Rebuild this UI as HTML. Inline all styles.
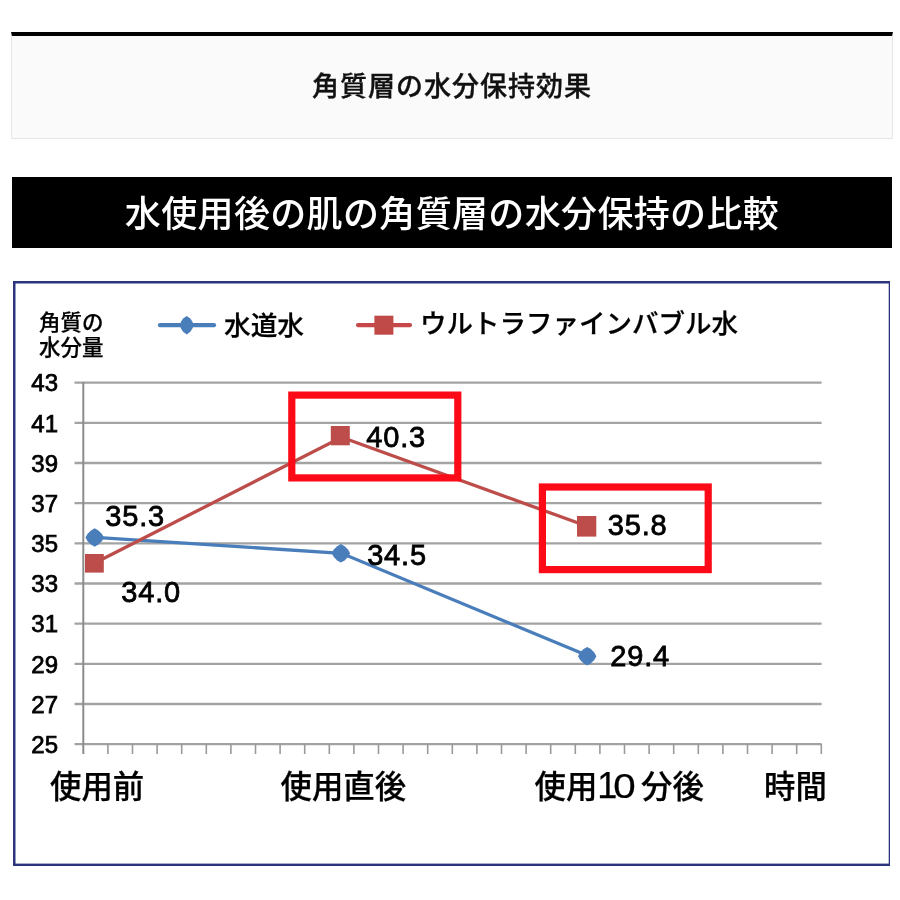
<!DOCTYPE html>
<html lang="ja">
<head>
<meta charset="utf-8">
<title>角質層の水分保持効果</title>
<style>
html,body{margin:0;padding:0;background:#fff;}
body{width:900px;height:900px;position:relative;overflow:hidden;font-family:"Liberation Sans","Noto Sans CJK JP",sans-serif;color:#000;}
.titlebox{position:absolute;left:11px;top:32px;width:880px;height:102px;background:#fafafa;border:1px solid #e6e6e6;border-top:4px solid #000;}
.titlebox h1{margin:0;position:absolute;left:0;right:0;top:36px;text-align:center;font-size:27px;line-height:30px;font-weight:500;letter-spacing:1px;color:#111;-webkit-text-stroke:0.35px #111;}
.banner{position:absolute;left:12px;top:177px;width:880px;height:71px;background:#000;}
.banner h2{margin:0;position:absolute;left:0;right:0;top:15px;text-align:center;font-size:36px;line-height:46px;font-weight:500;letter-spacing:0.35px;color:#fff;}
svg{position:absolute;left:0;top:0;}
.chart{filter:blur(0.5px);}
.jp{font-weight:500;stroke:#000;stroke-width:0.25;}
.num{stroke:#000;stroke-width:0.8;}
</style>
</head>
<body>
<div class="titlebox"><h1>角質層の水分保持効果</h1></div>
<div class="banner"><h2>水使用後の肌の角質層の水分保持の比較</h2></div>
<svg class="chart" width="900" height="900" viewBox="0 0 900 900" font-family="'Liberation Sans','Noto Sans CJK JP',sans-serif">
  <!-- frame -->
  <rect x="13" y="281" width="877" height="585" fill="#2b347c"/>
  <rect x="15.5" y="283.5" width="873.2" height="580.1" fill="#fff"/>
  <!-- gridlines -->
  <g stroke="#a3a3a3" stroke-width="2.3">
    <line x1="74.5" x2="821.6" y1="382.6" y2="382.6"/>
    <line x1="74.5" x2="821.6" y1="422.8" y2="422.8"/>
    <line x1="74.5" x2="821.6" y1="463" y2="463"/>
    <line x1="74.5" x2="821.6" y1="503.1" y2="503.1"/>
    <line x1="74.5" x2="821.6" y1="543.3" y2="543.3"/>
    <line x1="74.5" x2="821.6" y1="583.5" y2="583.5"/>
    <line x1="74.5" x2="821.6" y1="623.7" y2="623.7"/>
    <line x1="74.5" x2="821.6" y1="663.8" y2="663.8"/>
    <line x1="74.5" x2="821.6" y1="704" y2="704"/>
    <line x1="74.5" x2="821.6" y1="744.2" y2="744.2"/>
  </g>
  <line x1="83.3" x2="83.3" y1="382" y2="754" stroke="#8c8c8c" stroke-width="2"/>
  <g stroke="#9a9a9a" stroke-width="1.6"><line x1="107.90" x2="107.90" y1="744" y2="754"/><line x1="132.50" x2="132.50" y1="744" y2="754"/><line x1="157.10" x2="157.10" y1="744" y2="754"/><line x1="181.70" x2="181.70" y1="744" y2="754"/><line x1="206.30" x2="206.30" y1="744" y2="754"/><line x1="230.90" x2="230.90" y1="744" y2="754"/><line x1="255.50" x2="255.50" y1="744" y2="754"/><line x1="280.10" x2="280.10" y1="744" y2="754"/><line x1="304.70" x2="304.70" y1="744" y2="754"/><line x1="329.30" x2="329.30" y1="744" y2="754"/><line x1="353.90" x2="353.90" y1="744" y2="754"/><line x1="378.50" x2="378.50" y1="744" y2="754"/><line x1="403.10" x2="403.10" y1="744" y2="754"/><line x1="427.70" x2="427.70" y1="744" y2="754"/><line x1="452.30" x2="452.30" y1="744" y2="754"/><line x1="476.90" x2="476.90" y1="744" y2="754"/><line x1="501.50" x2="501.50" y1="744" y2="754"/><line x1="526.10" x2="526.10" y1="744" y2="754"/><line x1="550.70" x2="550.70" y1="744" y2="754"/><line x1="575.30" x2="575.30" y1="744" y2="754"/><line x1="599.90" x2="599.90" y1="744" y2="754"/><line x1="624.50" x2="624.50" y1="744" y2="754"/><line x1="649.10" x2="649.10" y1="744" y2="754"/><line x1="673.70" x2="673.70" y1="744" y2="754"/><line x1="698.30" x2="698.30" y1="744" y2="754"/><line x1="722.90" x2="722.90" y1="744" y2="754"/><line x1="747.50" x2="747.50" y1="744" y2="754"/><line x1="772.10" x2="772.10" y1="744" y2="754"/><line x1="796.70" x2="796.70" y1="744" y2="754"/><line x1="821.30" x2="821.30" y1="744" y2="754"/></g>
  <!-- y axis labels -->
  <g class="num" font-size="24" fill="#000" text-anchor="end" style="stroke-width:0.75">
    <text x="58" y="391.3">43</text>
    <text x="58" y="431.5">41</text>
    <text x="58" y="471.7">39</text>
    <text x="58" y="511.8">37</text>
    <text x="58" y="552">35</text>
    <text x="58" y="592.2">33</text>
    <text x="58" y="632.4">31</text>
    <text x="58" y="672.5">29</text>
    <text x="58" y="712.7">27</text>
    <text x="58" y="752.9">25</text>
  </g>
  <!-- axis title -->
  <g class="jp" font-size="21.5" fill="#000">
    <text x="39" y="330.3">角質の</text>
    <text x="39" y="355.3">水分量</text>
  </g>
  <!-- legend -->
  <line x1="160" x2="214" y1="325.2" y2="325.2" stroke="#4a7ebb" stroke-width="4.2" stroke-linecap="round"/>
  <g fill="#4a7ebb"><polygon points="186.7,316.0 190.3,318.6 192.3,321.6 193.7,325.2 192.3,328.8 190.3,331.8 186.7,334.4 183.1,331.8 181.1,328.8 179.7,325.2 181.1,321.6 183.1,318.6"/></g>
  <text class="jp" x="224" y="334.7" font-size="26.7">水道水</text>
  <line x1="358" x2="410" y1="325.1" y2="325.1" stroke="#c7474a" stroke-width="4.2" stroke-linecap="round"/>
  <rect x="374.4" y="315.7" width="19" height="19" fill="#c04a48"/>
  <text class="jp" x="420" y="332.7" font-size="26.5">ウルトラファインバブル水</text>
  <!-- series lines -->
  <polyline points="95.3,537.3 341.6,553.3 587.9,655.8" fill="none" stroke="#4a7ebb" stroke-width="3.3"/>
  <polyline points="95.3,562.8 341.6,437.2 587.9,526.5" fill="none" stroke="#bc4d4a" stroke-width="3.3"/>
  <g fill="#4a7ebb"><polygon points="94.7,528.3 98.4,530.4 101.8,533.8 103.9,537.5 101.8,541.2 98.4,544.6 94.7,546.7 91.0,544.6 87.6,541.2 85.5,537.5 87.6,533.8 91.0,530.4"/> <polygon points="340.9,544.1 344.6,546.2 348.0,549.6 350.1,553.3 348.0,557.0 344.6,560.4 340.9,562.5 337.2,560.4 333.8,557.0 331.7,553.3 333.8,549.6 337.2,546.2"/> <polygon points="587.2,647.0 590.9,649.1 594.3,652.5 596.4,656.2 594.3,659.9 590.9,663.3 587.2,665.4 583.5,663.3 580.1,659.9 578.0,656.2 580.1,652.5 583.5,649.1"/></g>
  <g fill="#bc4d4a">
    <rect x="85" y="554" width="18.8" height="18.6"/>
    <rect x="330.8" y="426" width="19" height="19.3"/>
    <rect x="577" y="516" width="19.3" height="20.6"/>
  </g>
  <!-- data labels -->
  <g class="num" font-size="29" fill="#000" letter-spacing="0.8">
    <text x="105.3" y="525.5">35.3</text>
    <text x="121.3" y="601.8">34.0</text>
    <text x="366.3" y="446.7">40.3</text>
    <text x="367.2" y="565">34.5</text>
    <text x="607.8" y="535.3">35.8</text>
    <text x="610.3" y="665.8">29.4</text>
  </g>
  <!-- highlight boxes -->
  <rect x="291.8" y="395.1" width="166" height="82.8" fill="none" stroke="#fc0a17" stroke-width="7.2"/>
  <rect x="542.4" y="487" width="165.8" height="82.6" fill="none" stroke="#fc0a17" stroke-width="7.2"/>
  <!-- x axis labels -->
  <g class="jp" font-size="31.4" fill="#000">
    <text x="50" y="797.5">使用前</text>
    <text x="280.5" y="797.5">使用直後</text>
    <text x="534.5" y="797.5">使用</text>
    <text x="597.3" y="797.7" font-size="36" style="font-weight:400">1</text>
    <text transform="translate(613.2,797.7) scale(1.12,1)" font-size="36" style="font-weight:400">0</text>
    <text x="641" y="797.5">分後</text>
    <text x="764" y="797.5">時間</text>
  </g>
</svg>
</body>
</html>
